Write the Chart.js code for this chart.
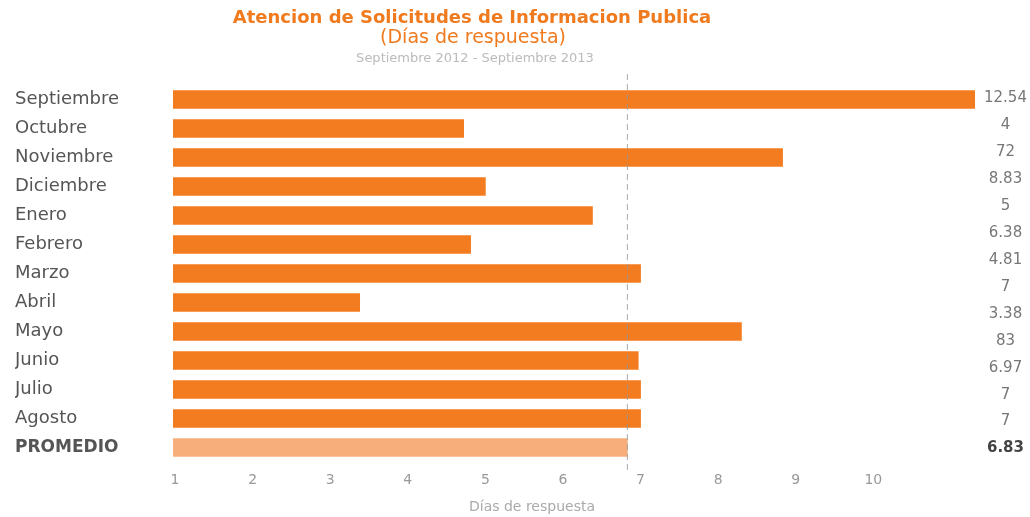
<!DOCTYPE html>
<html>
<head>
<meta charset="utf-8">
<script src="https://cdn.jsdelivr.net/npm/chart.js@4/dist/chart.umd.min.js"></script>
<style>
  html, body { margin: 0; padding: 0; background: #fff; }
  #wrap { width: 1030px; height: 517px; }
</style>
</head>
<body>
<div id="wrap"><canvas id="chart" width="1030" height="517"></canvas></div>
<script>
const months = ['Septiembre', 'Octubre', 'Noviembre', 'Diciembre', 'Enero', 'Febrero', 'Marzo',
  'Abril', 'Mayo', 'Junio', 'Julio', 'Agosto', 'PROMEDIO'];
const dias = [12.54, 4.72, 8.83, 5, 6.38, 4.81, 7, 3.38, 8.3, 6.97, 7, 7, 6.83];
// right column exactly as printed in the original (it is shifted against the bars)
const valueLabels = ['12.54', '4', '72', '8.83', '5', '6.38', '4.81', '7', '3.38', '83', '6.97', '7', '7', '6.83'];
const xTicks = [1, 2, 3, 4, 5, 6, 7, 8, 9, 10];
const promedio = dias[dias.length - 1];

const title = 'Atencion de Solicitudes de Informacion Publica';
const subtitle = '(Días de respuesta)';
const period = 'Septiembre 2012 - Septiembre 2013';
const axisTitle = 'Días de respuesta';

const orange = '#F47C20';
const FONT = '"DejaVu Sans", sans-serif';

const barColors = months.map(m => m === 'PROMEDIO' ? '#F7AE7A' : orange);

// header texts, axis title and the dashed average line
const extras = {
  id: 'extras',
  afterDatasetsDraw(chart) {
    const ctx = chart.ctx;
    const x = chart.scales.x.getPixelForValue(promedio);
    ctx.save();
    ctx.strokeStyle = 'rgba(150,150,150,0.8)';
    ctx.lineWidth = 1;
    ctx.setLineDash([6, 4]);
    ctx.beginPath();
    ctx.moveTo(x, 74);
    ctx.lineTo(x, 470);
    ctx.stroke();
    ctx.restore();
  },
  afterDraw(chart) {
    const ctx = chart.ctx;
    ctx.save();
    ctx.textAlign = 'center';
    ctx.textBaseline = 'middle';
    ctx.fillStyle = '#F07A1E';
    ctx.font = 'bold 18px ' + FONT;
    ctx.fillText(title, 472, 18);
    ctx.font = '19px ' + FONT;
    ctx.fillText(subtitle, 473, 38);
    ctx.fillStyle = '#bbb';
    ctx.font = '13px ' + FONT;
    ctx.fillText(period, 475, 59);
    ctx.fillStyle = '#aaa';
    ctx.font = '14px ' + FONT;
    ctx.fillText(axisTitle, 532, 507);
    ctx.restore();
  }
};

new Chart(document.getElementById('chart'), {
  type: 'bar',
  data: {
    labels: months,
    datasets: [{
      label: 'Días de respuesta',
      data: dias,
      backgroundColor: barColors,
      borderWidth: 0,
      barThickness: 18
    }]
  },
  options: {
    indexAxis: 'y',
    responsive: false,
    animation: false,
    layout: { padding: { top: 85, left: 15, right: 0, bottom: 0 } },
    plugins: {
      legend: { display: false },
      tooltip: { enabled: false }
    },
    scales: {
      x: {
        type: 'linear',
        min: 0.974,
        max: 11.31,
        grid: { display: false },
        border: { display: false },
        afterBuildTicks: (scale) => { scale.ticks = xTicks.map(v => ({ value: v })); },
        afterFit: (scale) => { scale.height = 55; },
        ticks: {
          padding: 2,
          color: '#999',
          font: { family: FONT, size: 14 }
        }
      },
      y: {
        grid: { display: false },
        border: { display: false },
        afterFit: (scale) => { scale.width = 158; },
        ticks: {
          crossAlign: 'far',
          color: '#555',
          font: (ctx) => ctx.index === months.length - 1
            ? { family: FONT, size: 17, weight: 'bold' }
            : { family: FONT, size: 18, weight: 'normal' }
        }
      },
      y2: {
        type: 'category',
        axis: 'y',
        position: 'right',
        labels: valueLabels,
        offset: true,
        grid: { display: false },
        border: { display: false },
        afterFit: (scale) => { scale.width = 55; },
        ticks: {
          crossAlign: 'center',
          padding: 1,
          color: (ctx) => ctx.index === valueLabels.length - 1 ? '#444' : '#777',
          font: (ctx) => ({
            family: FONT,
            size: 15,
            weight: ctx.index === valueLabels.length - 1 ? 'bold' : 'normal'
          })
        }
      }
    }
  },
  plugins: [extras]
});
</script>
</body>
</html>
